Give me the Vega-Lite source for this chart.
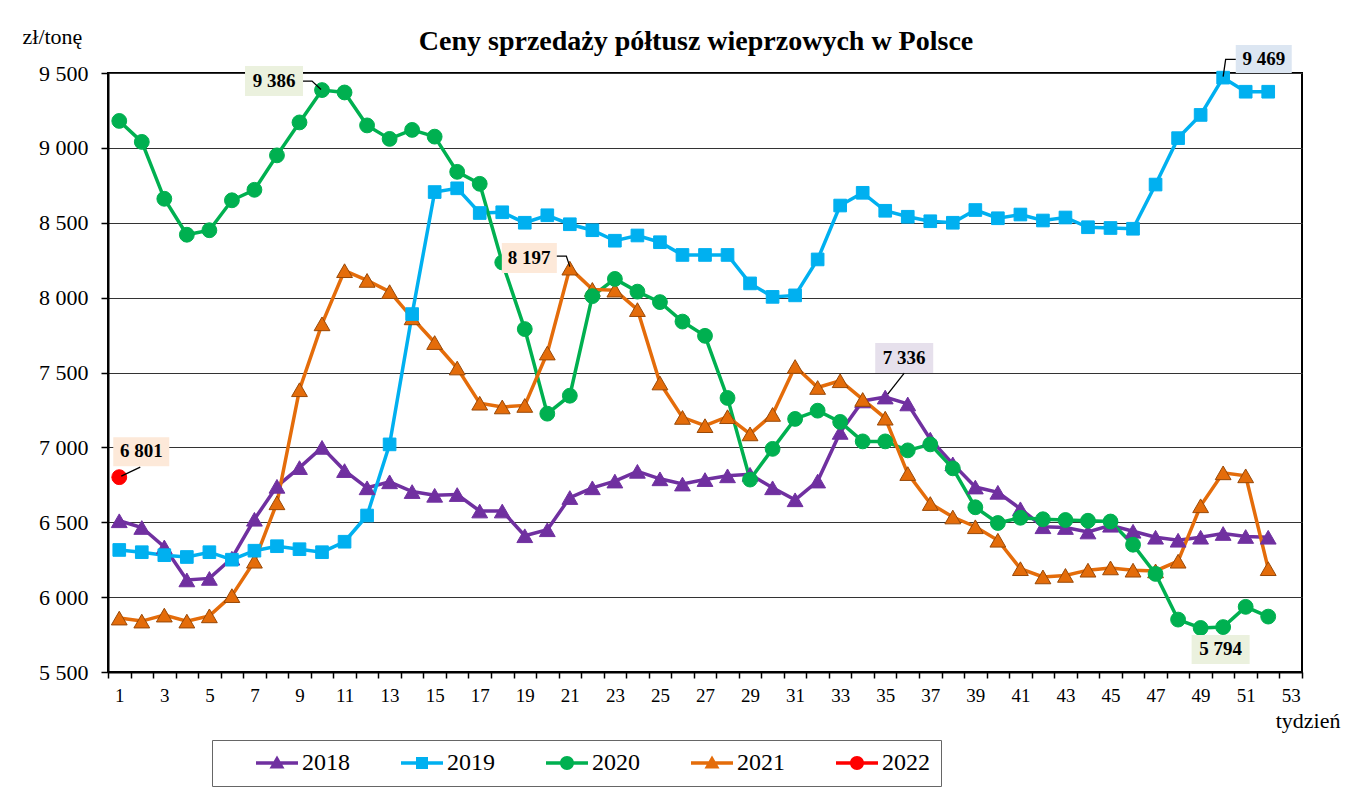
{
  "$schema": "https://vega.github.io/schema/vega-lite/v6.json",
  "width": 1194,
  "height": 599,
  "autosize": {"type": "none"},
  "padding": {"left": 108, "top": 73, "right": 45, "bottom": 115},
  "background": "#ffffff",
  "title": {
    "text": "Ceny sprzedaży półtusz wieprzowych w Polsce",
    "font": "Liberation Serif, Times New Roman, serif",
    "fontSize": 28,
    "fontWeight": "bold",
    "color": "#000000",
    "anchor": "middle",
    "frame": "group",
    "dx": -9,
    "offset": -53,
    "baseline": "alphabetic"
  },
  "config": {
    "locale": {"number": {"decimal": ",", "thousands": " ", "grouping": [3], "currency": ["", " zł"]}},
    "view": {"stroke": "#000000", "strokeWidth": 2},
    "font": "Liberation Serif, Times New Roman, serif"
  },
  "datasets": {
    "prices": [
      {"year": "2018", "week": 1, "price": 6510}, {"year": "2018", "week": 2, "price": 6465}, {"year": "2018", "week": 3, "price": 6335}, {"year": "2018", "week": 4, "price": 6115}, {"year": "2018", "week": 5, "price": 6125}, {"year": "2018", "week": 6, "price": 6260}, {"year": "2018", "week": 7, "price": 6520}, {"year": "2018", "week": 8, "price": 6740}, {"year": "2018", "week": 9, "price": 6865}, {"year": "2018", "week": 10, "price": 7000},
      {"year": "2018", "week": 11, "price": 6845}, {"year": "2018", "week": 12, "price": 6730}, {"year": "2018", "week": 13, "price": 6770}, {"year": "2018", "week": 14, "price": 6705}, {"year": "2018", "week": 15, "price": 6680}, {"year": "2018", "week": 16, "price": 6685}, {"year": "2018", "week": 17, "price": 6575}, {"year": "2018", "week": 18, "price": 6575}, {"year": "2018", "week": 19, "price": 6410}, {"year": "2018", "week": 20, "price": 6450},
      {"year": "2018", "week": 21, "price": 6665}, {"year": "2018", "week": 22, "price": 6730}, {"year": "2018", "week": 23, "price": 6775}, {"year": "2018", "week": 24, "price": 6840}, {"year": "2018", "week": 25, "price": 6790}, {"year": "2018", "week": 26, "price": 6755}, {"year": "2018", "week": 27, "price": 6785}, {"year": "2018", "week": 28, "price": 6810}, {"year": "2018", "week": 29, "price": 6820}, {"year": "2018", "week": 30, "price": 6730},
      {"year": "2018", "week": 31, "price": 6650}, {"year": "2018", "week": 32, "price": 6775}, {"year": "2018", "week": 33, "price": 7100}, {"year": "2018", "week": 34, "price": 7310}, {"year": "2018", "week": 35, "price": 7336}, {"year": "2018", "week": 36, "price": 7290}, {"year": "2018", "week": 37, "price": 7055}, {"year": "2018", "week": 38, "price": 6890}, {"year": "2018", "week": 39, "price": 6735}, {"year": "2018", "week": 40, "price": 6700},
      {"year": "2018", "week": 41, "price": 6590}, {"year": "2018", "week": 42, "price": 6470}, {"year": "2018", "week": 43, "price": 6465}, {"year": "2018", "week": 44, "price": 6435}, {"year": "2018", "week": 45, "price": 6480}, {"year": "2018", "week": 46, "price": 6440}, {"year": "2018", "week": 47, "price": 6400}, {"year": "2018", "week": 48, "price": 6380}, {"year": "2018", "week": 49, "price": 6400}, {"year": "2018", "week": 50, "price": 6425},
      {"year": "2018", "week": 51, "price": 6405}, {"year": "2018", "week": 52, "price": 6400},

      {"year": "2019", "week": 1, "price": 6315}, {"year": "2019", "week": 2, "price": 6300}, {"year": "2019", "week": 3, "price": 6280}, {"year": "2019", "week": 4, "price": 6268}, {"year": "2019", "week": 5, "price": 6300}, {"year": "2019", "week": 6, "price": 6250}, {"year": "2019", "week": 7, "price": 6310}, {"year": "2019", "week": 8, "price": 6340}, {"year": "2019", "week": 9, "price": 6320}, {"year": "2019", "week": 10, "price": 6300},
      {"year": "2019", "week": 11, "price": 6370}, {"year": "2019", "week": 12, "price": 6545}, {"year": "2019", "week": 13, "price": 7020}, {"year": "2019", "week": 14, "price": 7890}, {"year": "2019", "week": 15, "price": 8705}, {"year": "2019", "week": 16, "price": 8730}, {"year": "2019", "week": 17, "price": 8565}, {"year": "2019", "week": 18, "price": 8570}, {"year": "2019", "week": 19, "price": 8500}, {"year": "2019", "week": 20, "price": 8550},
      {"year": "2019", "week": 21, "price": 8490}, {"year": "2019", "week": 22, "price": 8450}, {"year": "2019", "week": 23, "price": 8380}, {"year": "2019", "week": 24, "price": 8415}, {"year": "2019", "week": 25, "price": 8370}, {"year": "2019", "week": 26, "price": 8285}, {"year": "2019", "week": 27, "price": 8285}, {"year": "2019", "week": 28, "price": 8285}, {"year": "2019", "week": 29, "price": 8095}, {"year": "2019", "week": 30, "price": 8005},
      {"year": "2019", "week": 31, "price": 8015}, {"year": "2019", "week": 32, "price": 8255}, {"year": "2019", "week": 33, "price": 8615}, {"year": "2019", "week": 34, "price": 8700}, {"year": "2019", "week": 35, "price": 8580}, {"year": "2019", "week": 36, "price": 8540}, {"year": "2019", "week": 37, "price": 8510}, {"year": "2019", "week": 38, "price": 8500}, {"year": "2019", "week": 39, "price": 8585}, {"year": "2019", "week": 40, "price": 8530},
      {"year": "2019", "week": 41, "price": 8555}, {"year": "2019", "week": 42, "price": 8515}, {"year": "2019", "week": 43, "price": 8535}, {"year": "2019", "week": 44, "price": 8470}, {"year": "2019", "week": 45, "price": 8465}, {"year": "2019", "week": 46, "price": 8460}, {"year": "2019", "week": 47, "price": 8755}, {"year": "2019", "week": 48, "price": 9065}, {"year": "2019", "week": 49, "price": 9220}, {"year": "2019", "week": 50, "price": 9469},
      {"year": "2019", "week": 51, "price": 9375}, {"year": "2019", "week": 52, "price": 9375},

      {"year": "2020", "week": 1, "price": 9180}, {"year": "2020", "week": 2, "price": 9040}, {"year": "2020", "week": 3, "price": 8660}, {"year": "2020", "week": 4, "price": 8420}, {"year": "2020", "week": 5, "price": 8450}, {"year": "2020", "week": 6, "price": 8650}, {"year": "2020", "week": 7, "price": 8720}, {"year": "2020", "week": 8, "price": 8950}, {"year": "2020", "week": 9, "price": 9170}, {"year": "2020", "week": 10, "price": 9386},
      {"year": "2020", "week": 11, "price": 9370}, {"year": "2020", "week": 12, "price": 9150}, {"year": "2020", "week": 13, "price": 9060}, {"year": "2020", "week": 14, "price": 9120}, {"year": "2020", "week": 15, "price": 9075}, {"year": "2020", "week": 16, "price": 8840}, {"year": "2020", "week": 17, "price": 8760}, {"year": "2020", "week": 18, "price": 8235}, {"year": "2020", "week": 19, "price": 7790}, {"year": "2020", "week": 20, "price": 7225},
      {"year": "2020", "week": 21, "price": 7345}, {"year": "2020", "week": 22, "price": 8010}, {"year": "2020", "week": 23, "price": 8125}, {"year": "2020", "week": 24, "price": 8040}, {"year": "2020", "week": 25, "price": 7970}, {"year": "2020", "week": 26, "price": 7840}, {"year": "2020", "week": 27, "price": 7745}, {"year": "2020", "week": 28, "price": 7330}, {"year": "2020", "week": 29, "price": 6785}, {"year": "2020", "week": 30, "price": 6990},
      {"year": "2020", "week": 31, "price": 7190}, {"year": "2020", "week": 32, "price": 7245}, {"year": "2020", "week": 33, "price": 7170}, {"year": "2020", "week": 34, "price": 7040}, {"year": "2020", "week": 35, "price": 7040}, {"year": "2020", "week": 36, "price": 6980}, {"year": "2020", "week": 37, "price": 7020}, {"year": "2020", "week": 38, "price": 6860}, {"year": "2020", "week": 39, "price": 6600}, {"year": "2020", "week": 40, "price": 6495},
      {"year": "2020", "week": 41, "price": 6530}, {"year": "2020", "week": 42, "price": 6520}, {"year": "2020", "week": 43, "price": 6515}, {"year": "2020", "week": 44, "price": 6510}, {"year": "2020", "week": 45, "price": 6505}, {"year": "2020", "week": 46, "price": 6350}, {"year": "2020", "week": 47, "price": 6155}, {"year": "2020", "week": 48, "price": 5850}, {"year": "2020", "week": 49, "price": 5794}, {"year": "2020", "week": 50, "price": 5800},
      {"year": "2020", "week": 51, "price": 5935}, {"year": "2020", "week": 52, "price": 5870},

      {"year": "2021", "week": 1, "price": 5860}, {"year": "2021", "week": 2, "price": 5840}, {"year": "2021", "week": 3, "price": 5880}, {"year": "2021", "week": 4, "price": 5840}, {"year": "2021", "week": 5, "price": 5875}, {"year": "2021", "week": 6, "price": 6010}, {"year": "2021", "week": 7, "price": 6240}, {"year": "2021", "week": 8, "price": 6630}, {"year": "2021", "week": 9, "price": 7385}, {"year": "2021", "week": 10, "price": 7825},
      {"year": "2021", "week": 11, "price": 8180}, {"year": "2021", "week": 12, "price": 8115}, {"year": "2021", "week": 13, "price": 8040}, {"year": "2021", "week": 14, "price": 7865}, {"year": "2021", "week": 15, "price": 7700}, {"year": "2021", "week": 16, "price": 7530}, {"year": "2021", "week": 17, "price": 7295}, {"year": "2021", "week": 18, "price": 7270}, {"year": "2021", "week": 19, "price": 7280}, {"year": "2021", "week": 20, "price": 7630},
      {"year": "2021", "week": 21, "price": 8197}, {"year": "2021", "week": 22, "price": 8055}, {"year": "2021", "week": 23, "price": 8050}, {"year": "2021", "week": 24, "price": 7920}, {"year": "2021", "week": 25, "price": 7430}, {"year": "2021", "week": 26, "price": 7200}, {"year": "2021", "week": 27, "price": 7145}, {"year": "2021", "week": 28, "price": 7205}, {"year": "2021", "week": 29, "price": 7090}, {"year": "2021", "week": 30, "price": 7220},
      {"year": "2021", "week": 31, "price": 7540}, {"year": "2021", "week": 32, "price": 7400}, {"year": "2021", "week": 33, "price": 7445}, {"year": "2021", "week": 34, "price": 7320}, {"year": "2021", "week": 35, "price": 7195}, {"year": "2021", "week": 36, "price": 6825}, {"year": "2021", "week": 37, "price": 6625}, {"year": "2021", "week": 38, "price": 6535}, {"year": "2021", "week": 39, "price": 6470}, {"year": "2021", "week": 40, "price": 6380},
      {"year": "2021", "week": 41, "price": 6190}, {"year": "2021", "week": 42, "price": 6135}, {"year": "2021", "week": 43, "price": 6145}, {"year": "2021", "week": 44, "price": 6180}, {"year": "2021", "week": 45, "price": 6195}, {"year": "2021", "week": 46, "price": 6180}, {"year": "2021", "week": 47, "price": 6175}, {"year": "2021", "week": 48, "price": 6240}, {"year": "2021", "week": 49, "price": 6610}, {"year": "2021", "week": 50, "price": 6830},
      {"year": "2021", "week": 51, "price": 6810}, {"year": "2021", "week": 52, "price": 6190},

      {"year": "2022", "week": 1, "price": 6801}
    ]
  },
  "data": {"name": "prices"},
  "encoding": {
    "x": {
      "field": "week",
      "type": "ordinal",
      "bandPosition": 0.5,
      "scale": {"type": "band", "domain": [1,2,3,4,5,6,7,8,9,10,11,12,13,14,15,16,17,18,19,20,21,22,23,24,25,26,27,28,29,30,31,32,33,34,35,36,37,38,39,40,41,42,43,44,45,46,47,48,49,50,51,52,53], "paddingInner": 0, "paddingOuter": 0},
      "axis": {
        "title": "tydzień",
        "titleX": 1232,
        "titleY": 55,
        "titleAlign": "right",
        "titleAnchor": null,
        "titleBaseline": "alphabetic",
        "titleFont": "Liberation Serif, Times New Roman, serif",
        "titleFontSize": 22,
        "titleFontWeight": "normal",
        "titleColor": "#000000",
        "labelExpr": "datum.value % 2 == 1 ? datum.label : ''",
        "labelAngle": 0,
        "labelOverlap": false,
        "labelFont": "Liberation Serif, Times New Roman, serif",
        "labelFontSize": 19,
        "labelColor": "#000000",
        "labelPadding": 8,
        "tickBand": "extent",
        "tickSize": 6,
        "tickColor": "#000000",
        "tickWidth": 1.5,
        "domainColor": "#000000",
        "domainWidth": 2,
        "grid": false
      }
    },
    "y": {
      "field": "price",
      "type": "quantitative",
      "scale": {"domain": [5500, 9500], "nice": false, "zero": false},
      "axis": {
        "values": [5500, 6000, 6500, 7000, 7500, 8000, 8500, 9000, 9500],
        "format": ",d",
        "title": "zł/tonę",
        "titleAngle": 0,
        "titleAlign": "left",
        "titleAnchor": null,
        "titleBaseline": "alphabetic",
        "titleX": -86,
        "titleY": -30,
        "titleFont": "Liberation Serif, Times New Roman, serif",
        "titleFontSize": 22,
        "titleFontWeight": "normal",
        "titleColor": "#000000",
        "labelFont": "Liberation Serif, Times New Roman, serif",
        "labelFontSize": 22,
        "labelColor": "#000000",
        "labelPadding": 13,
        "tickSize": 7,
        "tickColor": "#000000",
        "tickWidth": 1.5,
        "domainColor": "#000000",
        "domainWidth": 2,
        "grid": true,
        "gridColor": "#333333",
        "gridWidth": 1
      }
    }
  },
  "layer": [
    {
      "mark": {"type": "line", "strokeWidth": 3.5},
      "encoding": {
        "color": {
          "field": "year",
          "type": "nominal",
          "scale": {"domain": ["2018", "2019", "2020", "2021", "2022"], "range": ["#7030A0", "#00B0F0", "#00B050", "#E46C0A", "#FF0000"]},
          "legend": {
            "orient": "none",
            "legendX": 104,
            "legendY": 667,
            "direction": "horizontal",
            "title": null,
            "strokeColor": "#666666",
            "padding": 11,
            "labelFont": "Liberation Serif, Times New Roman, serif",
            "labelFontSize": 24,
            "labelColor": "#000000",
            "symbolSize": 400,
            "labelOffset": 55,
            "columnPadding": 18,
            "symbolStrokeWidth": 0,
            "encode": {
              "symbols": {
                "update": {
                  "shape": {"signal": "datum.value == '2019' ? 'M2.1,-0.17H6.3V0.17H2.1Z M3.6,-0.6H4.8V0.6H3.6Z' : (datum.value == '2020' || datum.value == '2022') ? 'M2.1,-0.17H6.3V0.17H2.1Z M3.5,0A0.7,0.7,0,1,1,4.9,0A0.7,0.7,0,1,1,3.5,0Z' : 'M2.1,-0.17H6.3V0.17H2.1Z M4.2,-0.75L4.95,0.55H3.45Z'"},
                  "fill": {"signal": "scale('color', datum.value)"},
                  "stroke": {"value": "transparent"},
                  "opacity": {"value": 1}
                }
              }
            }
          }
        }
      }
    },
    {
      "transform": [{"filter": "datum.year == '2018' || datum.year == '2021'"}],
      "mark": {"type": "point", "shape": "triangle-up", "size": 250, "filled": true, "opacity": 1, "strokeWidth": 1},
      "encoding": {
        "color": {"field": "year", "type": "nominal", "legend": null},
        "stroke": {"field": "year", "type": "nominal", "scale": {"domain": ["2018", "2019", "2020", "2021", "2022"], "range": ["#7030A0", "#00B0F0", "#00B050", "#984807", "#FF0000"]}, "legend": null}
      }
    },
    {
      "transform": [{"filter": "datum.year == '2019'"}],
      "mark": {"type": "point", "shape": "square", "size": 160, "filled": true, "opacity": 1, "strokeWidth": 1},
      "encoding": {
        "color": {"field": "year", "type": "nominal", "legend": null},
        "stroke": {"field": "year", "type": "nominal", "legend": null}
      }
    },
    {
      "transform": [{"filter": "datum.year == '2020' || datum.year == '2022'"}],
      "mark": {"type": "point", "shape": "circle", "size": 220, "filled": true, "opacity": 1, "strokeWidth": 1},
      "encoding": {
        "color": {"field": "year", "type": "nominal", "legend": null},
        "stroke": {"field": "year", "type": "nominal", "legend": null}
      }
    },
    {
      "transform": [{"filter": "datum.year == '2020' && datum.week == 10"}],
      "layer": [
        {"mark": {"type": "point", "shape": "M-7.7,-2.41H-1.9V0.59H-7.7Z", "size": 400, "filled": true, "fill": "#EBF1DE", "opacity": 1, "strokeWidth": 0}},
        {"mark": {"type": "point", "shape": "M-1.9,-0.9H-1.0L-0.1,-0.05", "size": 400, "filled": false, "stroke": "#000000", "strokeWidth": 1.3, "opacity": 1}},
        {"mark": {"type": "text", "dx": -48, "dy": -9, "font": "Liberation Serif, Times New Roman, serif", "fontSize": 19, "fontWeight": "bold", "color": "#000000", "baseline": "middle"}, "encoding": {"text": {"field": "price", "type": "quantitative", "format": ",d"}}}
      ]
    },
    {
      "transform": [{"filter": "datum.year == '2019' && datum.week == 50"}],
      "layer": [
        {"mark": {"type": "point", "shape": "M1.26,-3.26H6.86V-0.46H1.26Z", "size": 400, "filled": true, "fill": "#DCE6F2", "opacity": 1, "strokeWidth": 0}},
        {"mark": {"type": "point", "shape": "M1.26,-1.83H0.25L0,-0.1", "size": 400, "filled": false, "stroke": "#000000", "strokeWidth": 1.3, "opacity": 1}},
        {"mark": {"type": "text", "dx": 40.6, "dy": -18.6, "font": "Liberation Serif, Times New Roman, serif", "fontSize": 19, "fontWeight": "bold", "color": "#000000", "baseline": "middle"}, "encoding": {"text": {"field": "price", "type": "quantitative", "format": ",d"}}}
      ]
    },
    {
      "transform": [{"filter": "datum.year == '2021' && datum.week == 21"}],
      "layer": [
        {"mark": {"type": "point", "shape": "M-6.8,-2.5H-1.3V0.5H-6.8Z", "size": 400, "filled": true, "fill": "#FDE9D9", "opacity": 1, "strokeWidth": 0}},
        {"mark": {"type": "point", "shape": "M-1.3,-1.2H-0.35L0,-0.15", "size": 400, "filled": false, "stroke": "#000000", "strokeWidth": 1.3, "opacity": 1}},
        {"mark": {"type": "text", "dx": -40.7, "dy": -10, "font": "Liberation Serif, Times New Roman, serif", "fontSize": 19, "fontWeight": "bold", "color": "#000000", "baseline": "middle"}, "encoding": {"text": {"field": "price", "type": "quantitative", "format": ",d"}}}
      ]
    },
    {
      "transform": [{"filter": "datum.year == '2018' && datum.week == 35"}],
      "layer": [
        {"mark": {"type": "point", "shape": "M-1.0,-5.4H4.8V-2.4H-1.0Z", "size": 400, "filled": true, "fill": "#E6E0EC", "opacity": 1, "strokeWidth": 0}},
        {"mark": {"type": "point", "shape": "M1.9,-2.4L0.25,-0.3", "size": 400, "filled": false, "stroke": "#000000", "strokeWidth": 1.3, "opacity": 1}},
        {"mark": {"type": "text", "dx": 19, "dy": -39, "font": "Liberation Serif, Times New Roman, serif", "fontSize": 19, "fontWeight": "bold", "color": "#000000", "baseline": "middle"}, "encoding": {"text": {"field": "price", "type": "quantitative", "format": ",d"}}}
      ]
    },
    {
      "transform": [{"filter": "datum.year == '2020' && datum.week == 49"}],
      "layer": [
        {"mark": {"type": "point", "shape": "M-0.9,0.7H4.9V3.6H-0.9Z", "size": 400, "filled": true, "fill": "#EBF1DE", "opacity": 1, "strokeWidth": 0}},
        {"mark": {"type": "text", "dx": 20, "dy": 21.5, "font": "Liberation Serif, Times New Roman, serif", "fontSize": 19, "fontWeight": "bold", "color": "#000000", "baseline": "middle"}, "encoding": {"text": {"field": "price", "type": "quantitative", "format": ",d"}}}
      ]
    },
    {
      "transform": [{"filter": "datum.year == '2022' && datum.week == 1"}],
      "layer": [
        {"mark": {"type": "point", "shape": "M-0.6,-4.0H5.0V-1.1H-0.6Z", "size": 400, "filled": true, "fill": "#FDE9D9", "opacity": 1, "strokeWidth": 0}},
        {"mark": {"type": "point", "shape": "M2.1,-1.0L0.2,-0.1", "size": 400, "filled": false, "stroke": "#000000", "strokeWidth": 1.3, "opacity": 1}},
        {"mark": {"type": "text", "dx": 22, "dy": -25.7, "font": "Liberation Serif, Times New Roman, serif", "fontSize": 19, "fontWeight": "bold", "color": "#000000", "baseline": "middle"}, "encoding": {"text": {"field": "price", "type": "quantitative", "format": ",d"}}}
      ]
    }
  ]
}
